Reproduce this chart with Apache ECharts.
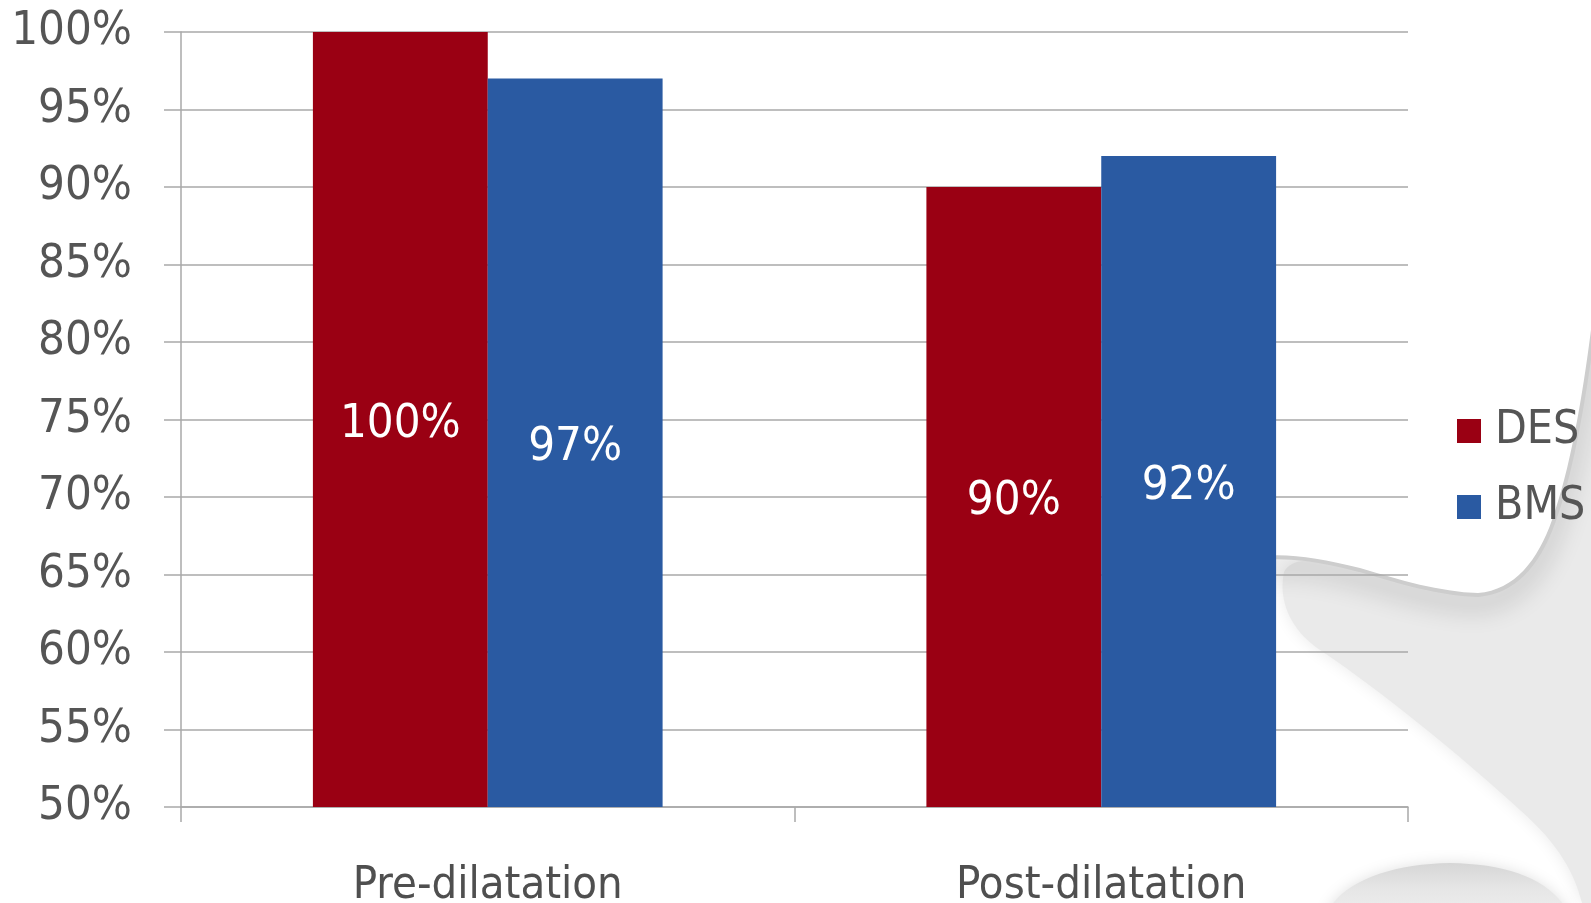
<!DOCTYPE html>
<html>
<head>
<meta charset="utf-8">
<script src="https://cdn.jsdelivr.net/npm/echarts@6/dist/echarts.min.js"></script>
<style>
  html, body { margin: 0; padding: 0; background: #ffffff; }
  #chart { width: 1591px; height: 903px; }
</style>
</head>
<body>
<div id="chart"></div>
<script>
// Success rate by phase, DES vs BMS
const categories = ['Pre-dilatation', 'Post-dilatation'];
const seriesNames = ['DES', 'BMS'];
const desValues = [100, 90];
const bmsValues = [97, 92];
const yMin = 50, yMax = 100, yStep = 5;

const FONT = "'DejaVu Sans Condensed', 'DejaVu Sans', sans-serif";
const TEXT_GREY = '#555555';
const LINE_GREY = '#a9a9a9';
const RED = '#9a0013';
const BLUE = '#2a5aa2';

// decorative slide backdrop (grey swoosh at the right)
const upperEdge = 'M 1640 290 L 1591 330 C 1582 400, 1570 470, 1552 520 ' +
  'C 1538 560, 1515 590, 1478 593 C 1440 592, 1400 580, 1360 568 ' +
  'C 1320 558, 1290 553, 1260 556 L 1190 562';
const greyZone = 'M 1640 290 L 1591 330 C 1582 400, 1570 470, 1552 520 ' +
  'C 1538 560, 1515 590, 1478 593 C 1440 592, 1400 580, 1360 568 ' +
  'C 1320 558, 1292 556, 1284 572 C 1278 600, 1290 630, 1320 650 ' +
  'C 1380 690, 1460 755, 1520 810 C 1560 845, 1575 875, 1582 903 L 1640 903 Z';
const whiteTop = upperEdge + ' L 1190 -100 L 1640 -100 Z';
const bottomBlob = 'M 1326 915 C 1340 882, 1390 864, 1450 863 C 1510 864, 1552 880, 1570 915 Z';

function renderBackdrop() {
  return {
    type: 'group',
    silent: true,
    children: [
      { type: 'path', shape: { pathData: greyZone },
        style: { fill: '#eaeaea', shadowBlur: 16, shadowColor: 'rgba(234,234,234,1)' } },
      { type: 'path', shape: { pathData: bottomBlob },
        style: { fill: { type: 'linear', x: 0, y: 0, x2: 0, y2: 1, colorStops: [
          { offset: 0, color: '#d6d6d6' }, { offset: 0.5, color: '#e6e6e6' }, { offset: 1, color: '#eeeeee' }] },
          shadowBlur: 14, shadowColor: 'rgba(225,225,225,1)' } },
      // soft shadow cast by the white upper region
      { type: 'path', shape: { pathData: upperEdge },
        style: { fill: null, stroke: 'rgba(205,205,205,1)', lineWidth: 8,
          shadowBlur: 26, shadowColor: 'rgba(0,0,0,0.3)', shadowOffsetY: 10 } },
      { type: 'path', shape: { pathData: whiteTop },
        style: { fill: '#ffffff' } }
    ]
  };
}

const chart = echarts.init(document.getElementById('chart'), null, { renderer: 'canvas' });

chart.setOption({
  animation: false,
  backgroundColor: '#ffffff',
  legend: {
    data: seriesNames,
    orient: 'vertical',
    left: 1452,
    top: 403,
    icon: 'rect',
    itemWidth: 24,
    itemHeight: 24,
    itemGap: 30,
    textStyle: { fontFamily: FONT, fontSize: 46, lineHeight: 45, color: TEXT_GREY, padding: [0, 0, 0, 9] }
  },
  grid: { left: 181, right: 183, top: 32, bottom: 96, containLabel: false, outerBoundsMode: 'none' },
  xAxis: {
    type: 'category',
    data: categories,
    axisLine: { show: true, lineStyle: { color: LINE_GREY, width: 1.5 } },
    axisTick: { show: true, length: 15, lineStyle: { color: LINE_GREY, width: 1.5 } },
    axisLabel: { margin: 57, fontFamily: FONT, fontSize: 45, color: '#4f4f4f' },
    splitLine: { show: false }
  },
  yAxis: {
    type: 'value',
    min: yMin,
    max: yMax,
    interval: yStep,
    axisLine: { show: true, lineStyle: { color: LINE_GREY, width: 1.5 } },
    axisTick: { show: true, length: 17, lineStyle: { color: LINE_GREY, width: 1.5 } },
    axisLabel: { margin: 49, fontFamily: FONT, fontSize: 47, color: TEXT_GREY, formatter: '{value}%',
      padding: [4, 0, 0, 0] },
    splitLine: { show: true, lineStyle: { color: LINE_GREY, width: 1.5 } }
  },
  series: [
    {
      type: 'custom',
      coordinateSystem: 'none',
      silent: true,
      z: -10,
      data: [0],
      renderItem: renderBackdrop
    },
    {
      name: seriesNames[0], type: 'bar', data: desValues,
      barGap: '0%', barCategoryGap: '43%',
      itemStyle: { color: RED },
      label: { show: true, position: 'inside', offset: [0, 5], formatter: '{c}%', fontFamily: FONT, fontSize: 47, color: '#ffffff' }
    },
    {
      name: seriesNames[1], type: 'bar', data: bmsValues,
      barGap: '0%', barCategoryGap: '43%',
      itemStyle: { color: BLUE },
      label: { show: true, position: 'inside', offset: [0, 5], formatter: '{c}%', fontFamily: FONT, fontSize: 47, color: '#ffffff' }
    }
  ]
});
</script>
</body>
</html>
